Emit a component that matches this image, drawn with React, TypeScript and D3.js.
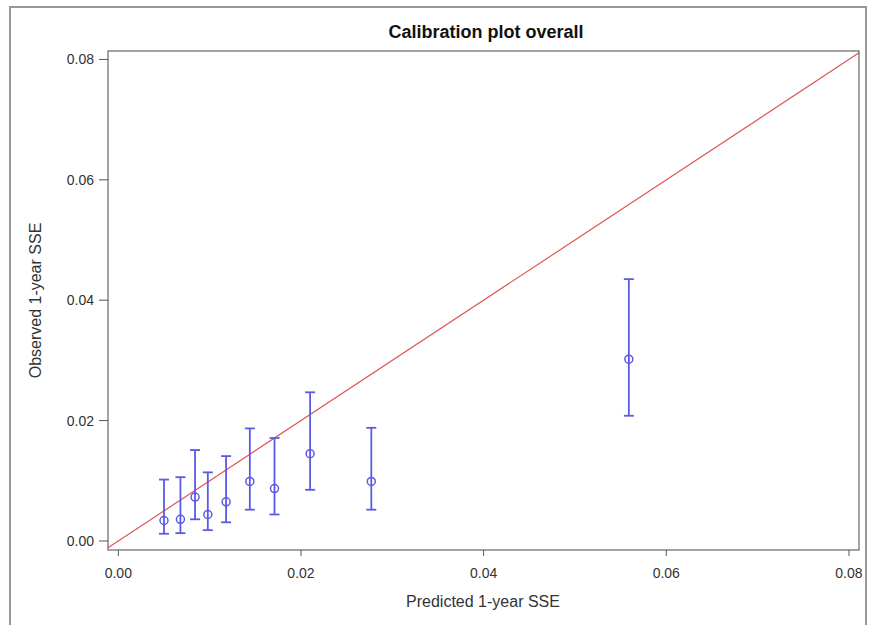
import * as d3 from 'd3';
import React from 'react';

// calibration groups
const predicted = [0.0050, 0.0068, 0.0084, 0.0098, 0.0118, 0.0144, 0.0171, 0.0210, 0.0277, 0.0559];
const observed = [0.0034, 0.0036, 0.0073, 0.0044, 0.0065, 0.0099, 0.0087, 0.0145, 0.0099, 0.0302];
const lower = [0.0012, 0.0013, 0.0036, 0.0018, 0.0031, 0.0052, 0.0044, 0.0085, 0.0052, 0.0208];
const upper = [0.0102, 0.0106, 0.0151, 0.0114, 0.0141, 0.0187, 0.0171, 0.0247, 0.0188, 0.0435];
const tickValues = [0, 0.02, 0.04, 0.06, 0.08];

const W = 870;
const H = 625;
const plot = { left: 108, right: 859, top: 51, bottom: 550 };

const App = () => {
    const x = d3.scaleLinear().domain([-0.00113, 0.0811]).range([plot.left, plot.right]);
    const y = d3.scaleLinear().domain([-0.0015, 0.0814]).range([plot.bottom, plot.top]);
    const fmt = d3.format('.2f');
    const blue = '#5a5ae6';
    const font = 'Liberation Sans, Arial, sans-serif';

    const lo = Math.max(x.domain()[0], y.domain()[0]);
    const hi = Math.min(x.domain()[1], y.domain()[1]);

    return (
        <svg width={W} height={H} style={{ position: 'absolute', left: 0, top: 0 }} fontFamily={font}>
            <rect x={0} y={0} width={W} height={H} fill="#fff" />
            <rect x={10} y={7} width={856} height={640} fill="none" stroke="#999" strokeWidth={2} />

            <text x={486} y={38} textAnchor="middle" fontSize={18} fontWeight="bold" fill="#111">
                Calibration plot overall
            </text>

            {/* identity line */}
            <line x1={x(lo)} y1={y(lo)} x2={x(hi)} y2={y(hi)} stroke="#e05555" strokeWidth={1.2} />

            {/* error bars */}
            {predicted.map((p, i) => (
                <g key={i} stroke={blue} fill="none">
                    <line x1={x(p)} x2={x(p)} y1={y(lower[i])} y2={y(upper[i])} strokeWidth={1.8} />
                    <line x1={x(p) - 5} x2={x(p) + 5} y1={y(upper[i])} y2={y(upper[i])} strokeWidth={1.8} />
                    <line x1={x(p) - 5} x2={x(p) + 5} y1={y(lower[i])} y2={y(lower[i])} strokeWidth={1.8} />
                    <circle cx={x(p)} cy={y(observed[i])} r={4} strokeWidth={1.5} />
                </g>
            ))}

            {/* plot frame */}
            <rect x={plot.left} y={plot.top} width={plot.right - plot.left} height={plot.bottom - plot.top}
                fill="none" stroke="#666" strokeWidth={1.2} />

            {/* x axis */}
            {tickValues.map(t => (
                <g key={'x' + t}>
                    <line x1={x(t)} x2={x(t)} y1={plot.bottom} y2={plot.bottom + 6} stroke="#555" />
                    <text x={x(t)} y={578} textAnchor="middle" fontSize={14} fill="#333">{fmt(t)}</text>
                </g>
            ))}
            {/* y axis */}
            {tickValues.map(t => (
                <g key={'y' + t}>
                    <line x1={plot.left - 9} x2={plot.left} y1={y(t)} y2={y(t)} stroke="#555" />
                    <text x={plot.left - 14} y={y(t) + 5} textAnchor="end" fontSize={14} fill="#333">{fmt(t)}</text>
                </g>
            ))}

            <text x={483} y={607} textAnchor="middle" fontSize={16} fill="#333">Predicted 1-year SSE</text>
            <text transform={`translate(41,${(plot.top + plot.bottom) / 2}) rotate(-90)`} textAnchor="middle"
                fontSize={16} fill="#333">Observed 1-year SSE</text>
        </svg>
    );
};

export default App;
